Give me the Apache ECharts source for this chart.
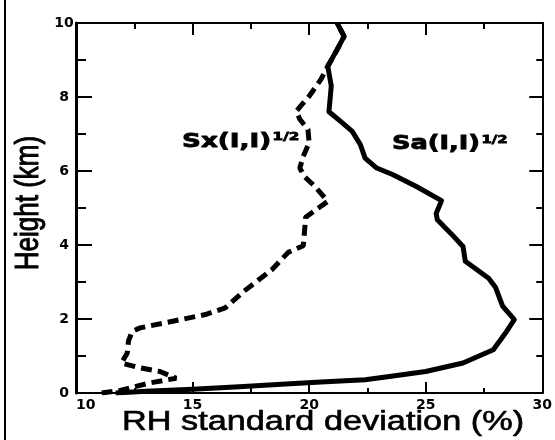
<!DOCTYPE html>
<html><head><meta charset="utf-8">
<script src="https://cdn.jsdelivr.net/npm/echarts@6/dist/echarts.min.js"></script>
<style>html,body{margin:0;padding:0;background:#fff}#c{width:555px;height:440px}</style>
</head><body><div id="c"></div>
<script>
// ---- data ----
const xTicks = [10, 15, 20, 25, 30];
const yTicks = [0, 2, 4, 6, 8, 10];
const xTitle = 'RH standard deviation (%)';
const yTitle = 'Height (km)';

// Sa(I,I)^1/2 : solid
const saRH     = [11.7, 13.0, 15.0, 17.0, 19.0, 20.5, 22.4, 23.6, 25.0, 26.6, 27.9, 28.4, 28.8, 28.3, 28.0, 27.7, 26.7, 26.6, 26.1, 25.5, 25.45, 25.68, 24.6, 23.6, 22.9, 22.4, 22.2, 21.85, 21.35, 20.85, 20.95, 20.8, 21.2, 21.5, 21.2];
const saHeight = [0.0,  0.05, 0.10, 0.17, 0.24, 0.30, 0.36, 0.46, 0.58, 0.81, 1.17, 1.60, 1.98, 2.35, 2.85, 3.10, 3.56, 3.96, 4.30, 4.68, 4.85, 5.20, 5.58, 5.90, 6.08, 6.35, 6.71, 7.07, 7.34, 7.60, 8.30, 8.83, 9.28, 9.64, 10.0];

// Sx(I,I)^1/2 : dashed
const sxRH     = [11.1, 11.9, 13.15, 14.3, 13.6, 12.75, 11.95, 12.2, 12.25, 12.4, 12.75, 14.15, 15.55, 16.4, 17.2, 18.4, 19.1, 19.75, 19.8, 19.85, 20.4, 20.8, 20.25, 19.8, 19.6, 19.75, 20.0, 19.95, 19.6, 19.45, 20.0, 20.5, 20.8, 21.2, 21.5, 21.2];
const sxHeight = [0.0,  0.07, 0.27,  0.40, 0.58, 0.68,  0.81,  1.08, 1.40,  1.66, 1.76,  1.94,  2.12,  2.30, 2.75, 3.33, 3.80, 3.98,  4.35, 4.75,  5.00, 5.18, 5.58,  5.85, 6.08, 6.40,  6.76, 7.12,  7.40, 7.62,  8.02, 8.47, 8.83, 9.28, 9.64, 10.0];

const zip = (xs, ys) => xs.map((v, i) => [v, ys[i]]);

const chart = echarts.init(document.getElementById('c'), null, {renderer: 'canvas'});
const black = '#000';
const lblFont = {fontFamily: 'DejaVu Sans', fontWeight: 'bold', fontSize: 14, color: black};

function xAxisCfg(pos, showLabel, major, minor) {
  return {
    type: 'value', position: pos, min: xTicks[0], max: xTicks[xTicks.length - 1],
    interval: xTicks[1] - xTicks[0],
    axisLine: {show: true, onZero: false, lineStyle: {color: black, width: 2}},
    axisTick: {show: true, inside: true, length: major, lineStyle: {color: black, width: 2}},
    minorTick: {show: true, splitNumber: 2, length: minor, lineStyle: {color: black, width: 2}},
    splitLine: {show: false}, minorSplitLine: {show: false},
    axisLabel: Object.assign({show: showLabel, margin: 5, alignMinLabel: 'left'}, lblFont)
  };
}
function yAxisCfg(pos, showLabel, major, minor, lw) {
  return {
    type: 'value', position: pos, min: yTicks[0], max: yTicks[yTicks.length - 1],
    interval: yTicks[1] - yTicks[0],
    axisLine: {show: true, onZero: false, lineStyle: {color: black, width: lw}},
    axisTick: {show: true, inside: true, length: major, lineStyle: {color: black, width: 2}},
    minorTick: {show: true, splitNumber: 2, length: minor, lineStyle: {color: black, width: 2}},
    splitLine: {show: false}, minorSplitLine: {show: false},
    axisLabel: Object.assign({show: showLabel, margin: 12, align: 'center'}, lblFont)
  };
}

const annoRich = {
  m: {fontFamily: 'DejaVu Sans', fontWeight: 'bold', fontSize: 19, fill: black, lineHeight: 20},
  s: {fontFamily: 'DejaVu Sans', fontWeight: 'bold', fontSize: 11, fill: black, verticalAlign: 'top', lineHeight: 20, padding: [0, 0, 0, 1]}
};

const option = {
  backgroundColor: '#fff',
  animation: false,
  grid: {left: 76, right: 8, top: 23, bottom: 47, containLabel: false},
  xAxis: [xAxisCfg('bottom', true, 11, 5), xAxisCfg('top', false, 12, 6)],
  yAxis: [yAxisCfg('left', true, 16, 10, 3), yAxisCfg('right', false, 13, 6, 2)],
  series: [
    {
      name: 'Sa(I,I)^1/2', type: 'line', xAxisIndex: 0, yAxisIndex: 0,
      data: zip(saRH, saHeight), showSymbol: false, symbol: 'none',
      lineStyle: {color: black, width: 5, join: 'round'}
    },
    {
      name: 'Sx(I,I)^1/2', type: 'line', xAxisIndex: 0, yAxisIndex: 0,
      data: zip(sxRH, sxHeight), showSymbol: false, symbol: 'none',
      lineStyle: {color: black, width: 5, type: [11, 6]}
    }
  ],
  graphic: [
    {type: 'rect', shape: {x: 4, y: 0, width: 2, height: 440}, style: {fill: black}},
    {type: 'text', x: 323, y: 423, scaleX: 1.27,
      style: {text: xTitle, fontFamily: 'Liberation Sans', fontSize: 27, fill: black, stroke: black, lineWidth: 0.6, align: 'center', verticalAlign: 'middle'}},
    {type: 'text', x: 29, y: 203, rotation: Math.PI / 2, scaleY: 1.29,
      style: {text: yTitle, fontFamily: 'Liberation Sans', fontSize: 26, fill: black, stroke: black, lineWidth: 0.8, align: 'center', verticalAlign: 'middle'}},
    {type: 'text', x: 182, y: 142, scaleX: 1.38,
      style: {text: '{m|Sx(I,I)}{s|1/2}', rich: annoRich, fill: black, stroke: black, lineWidth: 0.8, align: 'left', verticalAlign: 'middle'}},
    {type: 'text', x: 392, y: 144.5, scaleX: 1.35,
      style: {text: '{m|Sa(I,I)}{s|1/2}', rich: annoRich, fill: black, stroke: black, lineWidth: 0.8, align: 'left', verticalAlign: 'middle'}}
  ]
};
chart.setOption(option);
</script>
</body></html>
